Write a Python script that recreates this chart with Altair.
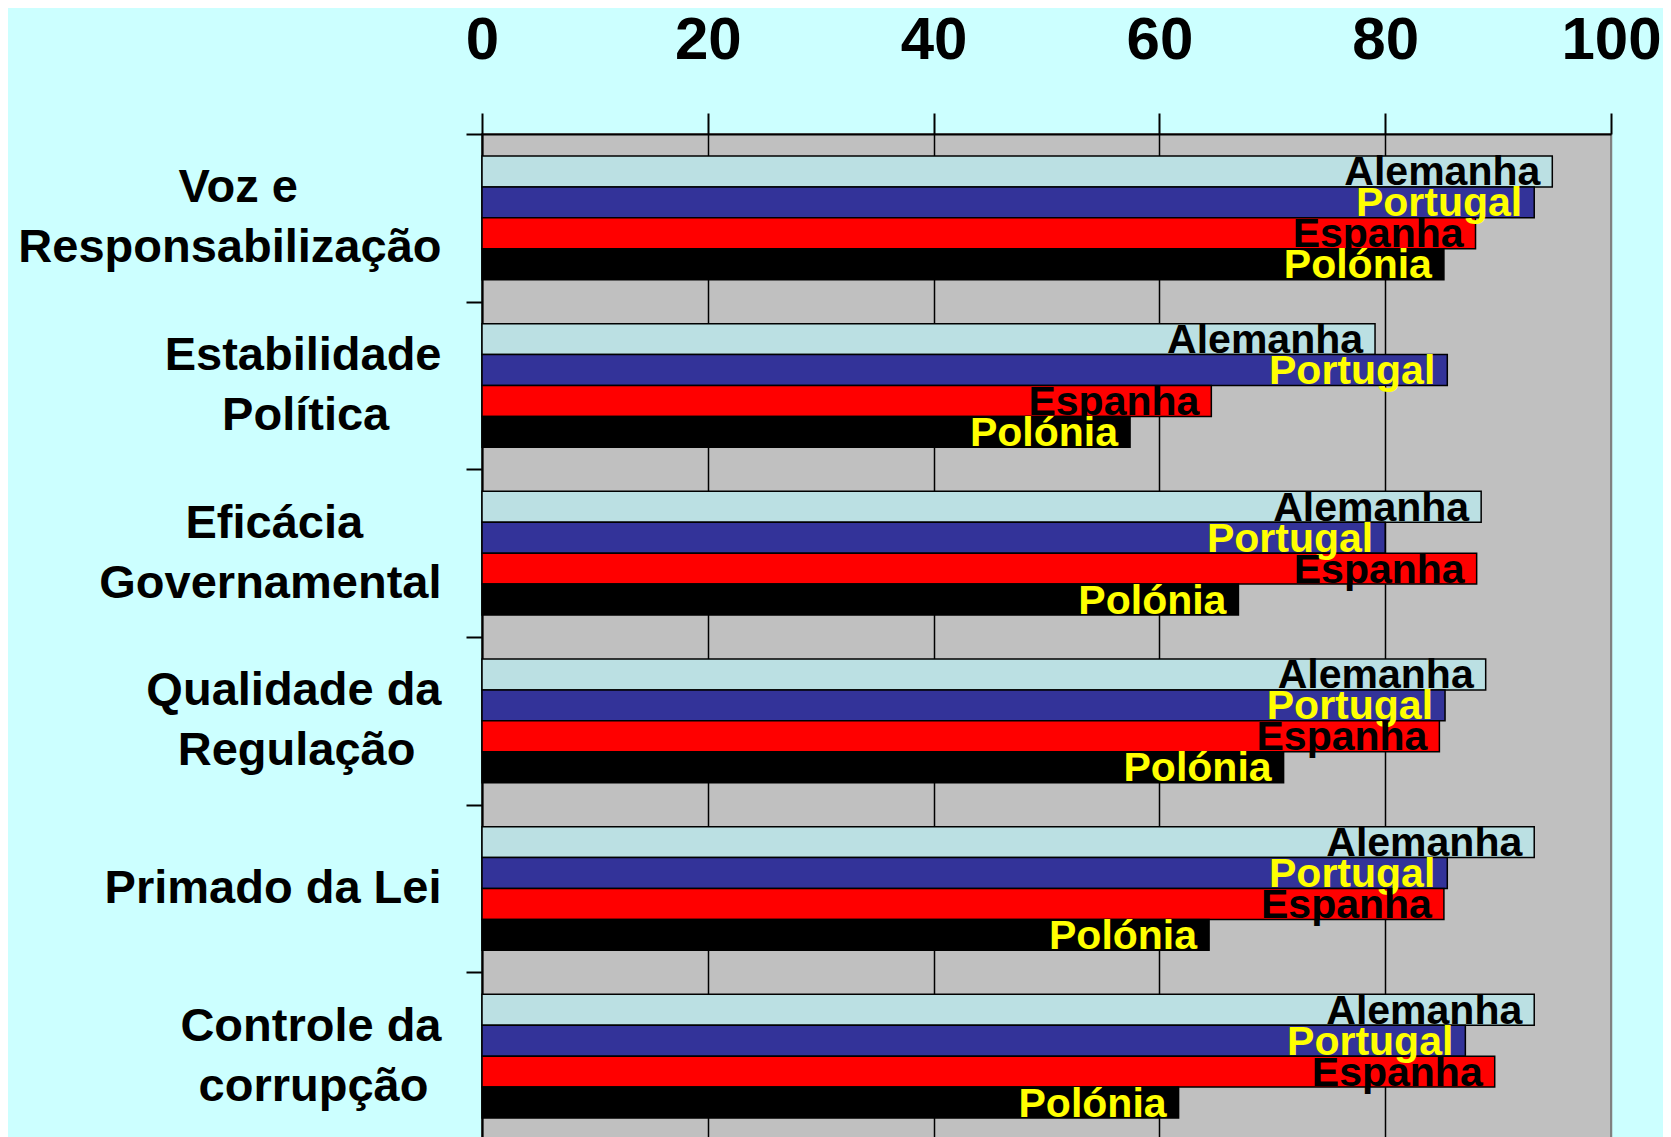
import altair as alt
import pandas as pd

groups = ["Voz e Responsabilização", "Estabilidade Política", "Eficácia Governamental",
          "Qualidade da Regulação", "Primado da Lei", "Controle da corrupção"]
group_lines = [["Voz e", "Responsabilização"], ["Estabilidade", "Política"],
               ["Eficácia", "Governamental"], ["Qualidade da", "Regulação"],
               ["Primado da Lei"], ["Controle da", "corrupção"]]
series = ["Alemanha", "Portugal", "Espanha", "Polónia"]

alemanha = [94.8, 79.1, 88.5, 88.9, 93.2, 93.2]
portugal = [93.2, 85.5, 80.0, 85.3, 85.5, 87.1]
espanha = [88.0, 64.6, 88.1, 84.8, 85.2, 89.7]
polonia = [85.2, 57.4, 67.0, 71.0, 64.4, 61.7]

bar_colors = ["#BBE0E3", "#333399", "#FF0000", "#000000"]
text_colors = ["#000000", "#FFFF00", "#000000", "#FFFF00"]
x_ticks = [0, 20, 40, 60, 80, 100]

# Arial/Liberation Sans Bold advance widths (1/1000 em), used to centre label lines
W = {"V": 667, "o": 611, "z": 500, " ": 278, "e": 556, "R": 722, "s": 556, "p": 611,
     "n": 611, "a": 556, "b": 611, "i": 278, "l": 278, "ç": 556, "ã": 556, "E": 667,
     "t": 333, "d": 611, "P": 667, "í": 278, "c": 556, "f": 333, "á": 556, "G": 778,
     "v": 556, "r": 389, "m": 889, "Q": 778, "u": 611, "g": 611, "L": 611, "C": 722}
NBSP = "\u00a0"
GUARD = "\u2060"  # word joiner: keeps the trailing no-break spaces from being trimmed


def text_width(s):
    return sum(W.get(ch, 556) for ch in s)


def block_label(lines):
    widest = max(text_width(l) for l in lines)
    out = []
    for l in lines:
        n = int(round((widest - text_width(l)) / 2 / 278))
        out.append(l + (NBSP * n + GUARD if n > 0 else ""))
    # half-height spacer lines keep one- and two-line labels centred on their group
    if len(out) == 1:
        out = [GUARD] + out
    else:
        out = [out[0], GUARD, out[1]]
    return "|".join(out)


labels = [block_label(l) for l in group_lines]
values = [alemanha, portugal, espanha, polonia]

rows = []
for gi, lab in enumerate(labels):
    for si, s in enumerate(series):
        rows.append({"grupo": lab, "pais": s, "valor": values[si][gi]})
df = pd.DataFrame(rows)

FONT = "Liberation Sans"

y_enc = alt.Y("grupo:N", sort=labels, title=None,
              scale=alt.Scale(paddingInner=0, paddingOuter=0),
              axis=alt.Axis(orient="left", tickBand="extent", tickSize=16, tickWidth=2,
                            tickColor="black", domainColor="black", domainWidth=2,
                            labelFont=FONT, labelFontWeight="bold", labelFontSize=47,
                            labelColor="black", labelPadding=25, labelLineHeight=30,
                            labelLimit=700, labelAlign="right", labelBaseline="middle",
                            labelOffset=-30,
                            labelExpr="split(datum.label, '|')"))
yoff_enc = alt.YOffset("pais:N", sort=series,
                       scale=alt.Scale(paddingOuter=0.71, paddingInner=0))
x_enc = alt.X("valor:Q", title=None,
              scale=alt.Scale(domain=[0, 100], nice=False, zero=True),
              axis=alt.Axis(orient="top", values=x_ticks, tickSize=21, tickWidth=2,
                            tickColor="black", domainColor="black", domainWidth=2,
                            labelFont=FONT, labelFontWeight="bold", labelFontSize=60,
                            labelColor="black", labelPadding=42, labelFlush=False,
                            labelOverlap=False, grid=True, gridWidth=1.5,
                            gridColor={"condition": {"test": "datum.value === 100",
                                                     "value": "#808080"},
                                       "value": "black"}))

bars = alt.Chart().mark_bar(stroke="black", strokeWidth=1.5, opacity=1).encode(
    x=x_enc, y=y_enc, yOffset=yoff_enc,
    color=alt.Color("pais:N", sort=series,
                    scale=alt.Scale(domain=series, range=bar_colors), legend=None),
)

texts = alt.Chart().mark_text(align="right", baseline="alphabetic", dx=-12, dy=14,
                              font=FONT, fontWeight="bold", fontSize=41).encode(
    x=alt.X("valor:Q"), y=alt.Y("grupo:N", sort=labels), yOffset=yoff_enc,
    text="pais:N",
    color=alt.Color("pais:N", sort=series,
                    scale=alt.Scale(domain=series, range=text_colors), legend=None),
)

chart = alt.layer(bars, texts, data=df).resolve_scale(color="independent").properties(
    width=1129, height=1006, background="#CCFFFF",
    padding={"left": 9, "top": 2, "right": 1, "bottom": 0},
).configure_view(fill="#C0C0C0", stroke="#808080", strokeWidth=2)

chart.save("out.html", embed_options={"renderer": "svg", "actions": False})
